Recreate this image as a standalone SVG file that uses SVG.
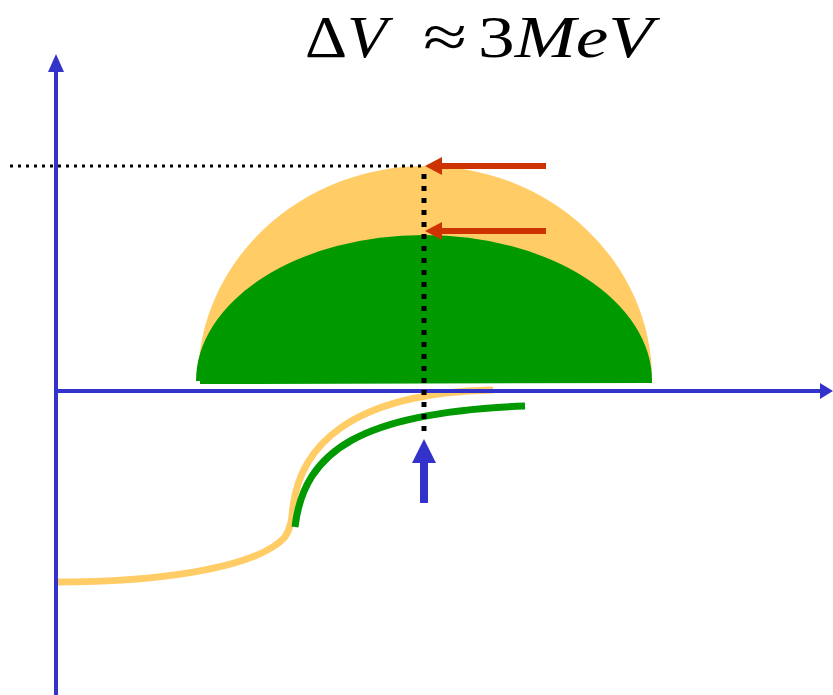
<svg xmlns="http://www.w3.org/2000/svg" width="833" height="695" viewBox="0 0 833 695">
<style>
.title{font-family:"Liberation Serif","Times New Roman",serif;font-size:60px;fill:#000}
.it{font-style:italic}
.curve{fill:none;stroke-width:7}
.axis{stroke:#3333CC;stroke-width:4;fill:none}
</style>
<rect width="833" height="695" fill="#fff"/>
<g id="title">
<text class="title" x="305" y="57" textLength="82" lengthAdjust="spacingAndGlyphs">Δ<tspan class="it">V</tspan></text>
<text class="title" x="423" y="57" textLength="44" lengthAdjust="spacingAndGlyphs">≈</text>
<text class="title" x="478" y="57" textLength="175" lengthAdjust="spacingAndGlyphs">3<tspan class="it">MeV</tspan></text>
</g>
<g id="dome-orange"><path d="M198,379 A227,213 0 0 1 652,379 Z" fill="#FFCC66"/></g>
<g id="dome-green"><path d="M196,381 A228,146 0 0 1 652,381 L652,383 L200,384 L200,381 Z" fill="#009900"/></g>
<g id="curve-orange"><path class="curve" stroke="#FFCC66" d="M57,582 C150,582 255,570 285,537 C291,528 292,518 293,507 C300,450 345,393 493,390"/></g>
<g id="curve-green"><path class="curve" stroke="#009900" d="M295,527 C304,450 362,412 525,406"/></g>
<g id="axes">
<line class="axis" x1="56" y1="695" x2="56" y2="68"/>
<polygon points="56,54 48,72 64,72" fill="#3333CC"/>
<line class="axis" x1="56" y1="391" x2="822" y2="391"/>
<polygon points="833,391 820,383 820,399" fill="#3333CC"/>
</g>
<g id="connectors">
<line x1="10" y1="166" x2="422" y2="166" stroke="#000" stroke-width="3" stroke-dasharray="3 5"/>
<line x1="424" y1="174" x2="424" y2="437" stroke="#000" stroke-width="5" stroke-dasharray="5 7"/>
<line x1="441" y1="166" x2="546" y2="166" stroke="#CC3300" stroke-width="6"/>
<polygon points="425,166 442,157 442,175" fill="#CC3300"/>
<line x1="441" y1="231" x2="546" y2="231" stroke="#CC3300" stroke-width="6"/>
<polygon points="425,231 442,222 442,240" fill="#CC3300"/>
<line x1="424" y1="460" x2="424" y2="503" stroke="#3333CC" stroke-width="8"/>
<polygon points="424,439 412,463 436,463" fill="#3333CC"/>
</g>
</svg>
